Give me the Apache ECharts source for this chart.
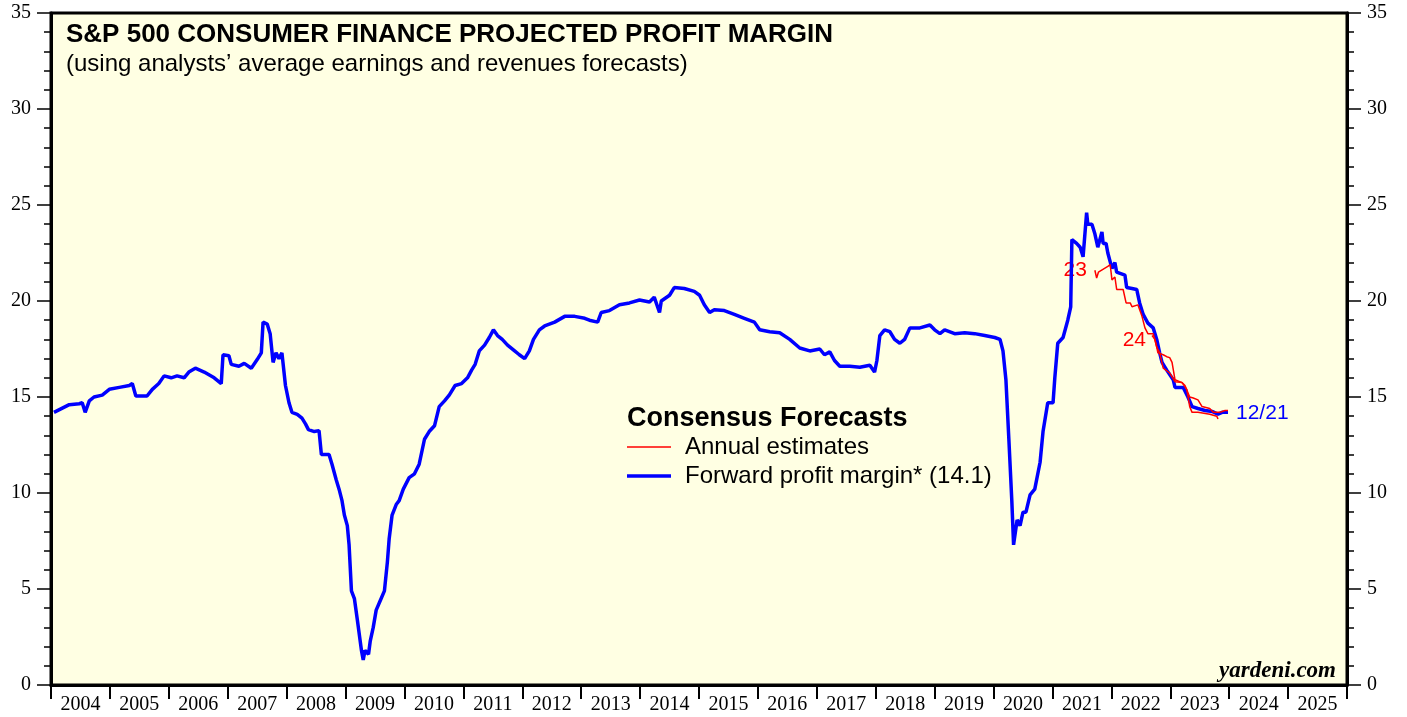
<!DOCTYPE html>
<html>
<head>
<meta charset="utf-8">
<script src="https://cdn.jsdelivr.net/npm/echarts@6/dist/echarts.min.js"></script>
<style>
  html, body { margin: 0; padding: 0; background: #fff; }
  #chart { width: 1407px; height: 717px; }
</style>
</head>
<body>
<div id="chart"></div>
<script>
// year labels under the bands
const years = ['2004','2005','2006','2007','2008','2009','2010','2011','2012','2013','2014',
  '2015','2016','2017','2018','2019','2020','2021','2022','2023','2024','2025'];

// forward profit margin, [decimal year, %]
const fwdMargin = [
  [2004.05,14.2],[2004.31,14.6],[2004.48,14.65],[2004.53,14.7],[2004.58,14.2],[2004.65,14.8],
  [2004.73,15.0],[2004.87,15.1],[2004.99,15.4],[2005.16,15.5],[2005.33,15.6],[2005.38,15.7],
  [2005.44,15.05],[2005.63,15.05],[2005.72,15.4],[2005.83,15.7],[2005.92,16.1],[2006.04,16.0],
  [2006.14,16.1],[2006.26,16.0],[2006.34,16.3],[2006.45,16.5],[2006.60,16.3],[2006.77,16.0],
  [2006.89,15.7],[2006.92,17.2],[2007.02,17.15],[2007.06,16.7],[2007.19,16.6],[2007.28,16.75],
  [2007.40,16.5],[2007.50,16.95],[2007.57,17.3],[2007.60,18.9],[2007.67,18.8],[2007.72,18.3],
  [2007.77,16.8],[2007.82,17.3],[2007.87,17.0],[2007.92,17.3],[2007.98,15.6],[2008.04,14.7],
  [2008.09,14.2],[2008.18,14.1],[2008.26,13.9],[2008.32,13.6],[2008.37,13.3],[2008.47,13.2],
  [2008.55,13.25],[2008.59,12.0],[2008.72,12.0],[2008.77,11.5],[2008.84,10.7],[2008.89,10.2],
  [2008.94,9.6],[2008.98,8.85],[2009.03,8.3],[2009.06,7.3],[2009.10,4.9],[2009.15,4.5],
  [2009.20,3.4],[2009.27,1.8],[2009.30,1.3],[2009.33,1.8],[2009.39,1.6],[2009.42,2.3],
  [2009.47,3.0],[2009.52,3.9],[2009.59,4.4],[2009.66,4.9],[2009.71,6.4],[2009.74,7.6],
  [2009.79,8.85],[2009.86,9.4],[2009.91,9.6],[2009.98,10.2],[2010.08,10.8],[2010.17,11.0],
  [2010.25,11.5],[2010.34,12.8],[2010.42,13.2],[2010.51,13.5],[2010.59,14.5],[2010.68,14.8],
  [2010.76,15.1],[2010.86,15.6],[2010.97,15.7],[2011.07,16.0],[2011.14,16.4],[2011.20,16.7],
  [2011.27,17.4],[2011.36,17.7],[2011.44,18.1],[2011.51,18.5],[2011.58,18.2],[2011.66,18.0],
  [2011.75,17.7],[2011.87,17.4],[2011.95,17.2],[2012.04,17.0],[2012.12,17.4],[2012.19,18.0],
  [2012.29,18.5],[2012.38,18.7],[2012.55,18.9],[2012.72,19.2],[2012.89,19.2],[2013.06,19.1],
  [2013.14,19.0],[2013.28,18.9],[2013.34,19.4],[2013.48,19.5],[2013.65,19.8],[2013.82,19.9],
  [2013.99,20.05],[2014.16,19.95],[2014.24,20.2],[2014.33,19.4],[2014.36,20.0],[2014.50,20.3],
  [2014.58,20.7],[2014.75,20.65],[2014.92,20.5],[2015.01,20.3],[2015.09,19.8],[2015.18,19.4],
  [2015.26,19.55],[2015.43,19.5],[2015.60,19.3],[2015.77,19.1],[2015.94,18.9],[2016.03,18.5],
  [2016.20,18.4],[2016.37,18.35],[2016.54,18.0],[2016.71,17.55],[2016.88,17.4],[2017.05,17.5],
  [2017.13,17.2],[2017.22,17.35],[2017.30,16.9],[2017.39,16.6],[2017.56,16.6],[2017.73,16.55],
  [2017.90,16.65],[2017.98,16.3],[2018.02,16.9],[2018.07,18.2],[2018.15,18.5],[2018.24,18.4],
  [2018.32,18.0],[2018.41,17.8],[2018.49,18.0],[2018.58,18.6],[2018.75,18.6],[2018.92,18.75],
  [2019.00,18.5],[2019.09,18.3],[2019.17,18.5],[2019.34,18.3],[2019.51,18.35],[2019.68,18.3],
  [2019.85,18.2],[2020.02,18.1],[2020.11,18.0],[2020.16,17.4],[2020.21,15.9],[2020.26,12.8],
  [2020.31,9.6],[2020.34,7.3],[2020.40,8.6],[2020.45,8.3],[2020.50,9.0],[2020.55,9.0],
  [2020.62,9.9],[2020.70,10.2],[2020.79,11.6],[2020.84,13.2],[2020.92,14.7],[2021.01,14.7],
  [2021.04,16.0],[2021.09,17.8],[2021.18,18.1],[2021.26,19.0],[2021.31,19.7],[2021.33,23.2],
  [2021.41,23.0],[2021.47,22.8],[2021.52,22.3],[2021.58,24.6],[2021.60,24.0],[2021.67,24.0],
  [2021.72,23.5],[2021.77,22.8],[2021.84,23.6],[2021.86,23.0],[2021.91,23.0],[2021.94,22.5],
  [2022.01,21.7],[2022.06,22.0],[2022.09,21.5],[2022.23,21.35],[2022.26,20.7],[2022.35,20.65],
  [2022.43,20.6],[2022.48,19.9],[2022.54,19.3],[2022.62,18.85],[2022.71,18.6],[2022.77,18.0],
  [2022.82,17.3],[2022.86,16.8],[2022.94,16.4],[2023.05,15.9],[2023.08,15.5],[2023.22,15.5],
  [2023.30,15.0],[2023.37,14.5],[2023.47,14.4],[2023.59,14.3],[2023.71,14.25],[2023.81,14.1],
  [2023.88,14.2],[2023.98,14.2]
];

// annual estimates for 2023 and 2024
const est2023 = [
  [2021.72,21.6],[2021.75,21.2],[2021.78,21.5],[2021.94,21.8],[2021.98,21.9],[2022.01,21.1],
  [2022.06,21.25],[2022.09,20.6],[2022.20,20.6],[2022.25,19.9],[2022.32,19.9],[2022.35,19.7],
  [2022.45,19.8],[2022.52,19.2],[2022.57,18.6],[2022.62,18.3],[2022.71,18.3],[2022.77,17.6],
  [2022.82,17.3],[2022.88,16.5],[2022.99,16.25],[2023.08,15.8],[2023.20,15.75],[2023.28,15.4],
  [2023.33,14.5],[2023.37,14.2],[2023.47,14.2],[2023.50,14.1],[2023.67,14.1],[2023.79,14.0],
  [2023.81,13.85]
];
const est2024 = [
  [2022.69,18.2],[2022.74,18.0],[2022.77,17.6],[2022.79,17.3],[2022.88,17.2],[2022.94,17.1],
  [2022.99,17.05],[2023.03,16.8],[2023.08,15.9],[2023.20,15.75],[2023.25,15.6],[2023.33,15.0],
  [2023.39,14.95],[2023.47,14.85],[2023.54,14.5],[2023.67,14.4],[2023.73,14.2],[2023.84,14.2],
  [2023.93,14.3],[2023.98,14.3]
];

const chart = echarts.init(document.getElementById('chart'));

const serif = 'Liberation Serif';
const sans = 'Liberation Sans';

// legend swatches: a bar in a 44x14 box (corner points keep the box size)
const thinIcon = 'path://M0,0L0,0M0,6.3H44V7.7H0ZM44,14L44,14';
const thickIcon = 'path://M0,0L0,0M0,5.2H44V8.8H0ZM44,14L44,14';

const yAxisBase = {
  type: 'value', min: 0, max: 35, interval: 5,
  axisLine: { show: true, lineStyle: { color: '#000', width: 3 } },
  axisTick: { show: true, length: 14, lineStyle: { color: '#000', width: 1.5 } },
  minorTick: { show: true, splitNumber: 5, length: 7, lineStyle: { color: '#000', width: 1.5 } },
  splitLine: { show: false },
  axisLabel: { color: '#000', fontFamily: serif, fontSize: 20, margin: 20 }
};

const option = {
  animation: false,
  backgroundColor: '#fff',
  grid: {
    left: 51, right: 60, top: 13, bottom: 32,
    show: true, backgroundColor: '#ffffe3', borderColor: '#000', borderWidth: 3
  },
  xAxis: [
    {
      type: 'value', min: 2004, max: 2026, interval: 1,
      axisLine: { show: true, lineStyle: { color: '#000', width: 3 } },
      axisTick: { show: true, length: 14, lineStyle: { color: '#000', width: 2 } },
      axisLabel: { show: false },
      splitLine: { show: false }
    },
    {
      type: 'category', data: years, boundaryGap: true, position: 'bottom',
      axisLine: { show: false }, axisTick: { show: false },
      axisLabel: { color: '#000', fontFamily: serif, fontSize: 20, margin: 10, interval: 0 },
      splitLine: { show: false }
    }
  ],
  yAxis: [
    Object.assign({}, yAxisBase, { position: 'left' }),
    Object.assign({}, yAxisBase, { position: 'right' })
  ],
  legend: {
    data: [
      { name: 'Annual estimates', icon: thinIcon },
      { name: 'Forward profit margin* (14.1)', icon: thickIcon }
    ],
    orient: 'vertical', left: 622, top: 430,
    itemWidth: 44, itemHeight: 14, itemGap: 5,
    textStyle: { color: '#000', fontFamily: sans, fontSize: 24, padding: [0, 0, 0, 9] }
  },
  series: [
    {
      name: 'Annual estimates', type: 'line', data: est2023,
      symbol: 'none', lineStyle: { color: '#ff0000', width: 1.5 }, itemStyle: { color: '#ff0000' },
      z: 3
    },
    {
      name: 'Annual estimates', type: 'line', data: est2024,
      symbol: 'none', lineStyle: { color: '#ff0000', width: 1.5 }, itemStyle: { color: '#ff0000' },
      z: 3
    },
    {
      name: 'Forward profit margin* (14.1)', type: 'line', data: fwdMargin,
      symbol: 'none', lineStyle: { color: '#0000ff', width: 3.5 }, itemStyle: { color: '#0000ff' },
      z: 2
    }
  ]
};

chart.setOption(option);

// text on top of the plot, series labels placed from the data
const p23 = chart.convertToPixel({ gridIndex: 0 }, est2023[0]);
const p24 = chart.convertToPixel({ gridIndex: 0 }, est2024[0]);
const pEnd = chart.convertToPixel({ gridIndex: 0 }, fwdMargin[fwdMargin.length - 1]);

chart.setOption({
  graphic: [
    { type: 'text', left: 66, top: 22,
      style: { text: 'S&P 500 CONSUMER FINANCE PROJECTED PROFIT MARGIN', fill: '#000', font: 'bold 26px "Liberation Sans"' } },
    { type: 'text', left: 66, top: 52,
      style: { text: '(using analysts\u2019 average earnings and revenues forecasts)', fill: '#000', font: '24px "Liberation Sans"' } },
    { type: 'text', left: 627, top: 405,
      style: { text: 'Consensus Forecasts', fill: '#000', font: 'bold 27px "Liberation Sans"' } },
    { type: 'text', right: 71, top: 660,
      style: { text: 'yardeni.com', fill: '#000', font: 'italic bold 23px "Liberation Serif"' } },
    { type: 'text', x: p23[0] - 8, y: p23[1],
      style: { text: '23', fill: '#ff0000', font: '21px "Liberation Sans"', align: 'right', verticalAlign: 'middle' } },
    { type: 'text', x: p24[0] - 6, y: p24[1] + 5,
      style: { text: '24', fill: '#ff0000', font: '21px "Liberation Sans"', align: 'right', verticalAlign: 'middle' } },
    { type: 'text', x: pEnd[0] + 8, y: pEnd[1] + 1,
      style: { text: '12/21', fill: '#0000ff', font: '21px "Liberation Sans"', align: 'left', verticalAlign: 'middle' } }
  ]
});

window.addEventListener('resize', () => {
  chart.resize();
});
</script>
</body>
</html>
